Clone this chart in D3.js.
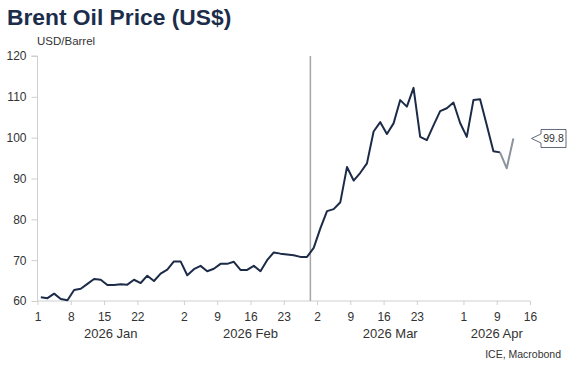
<!DOCTYPE html>
<html>
<head>
<meta charset="utf-8">
<script src="https://cdn.jsdelivr.net/npm/d3@7"></script>
<style>
  html, body { margin: 0; padding: 0; background: #fff; }
  svg { display: block; font-family: "Liberation Sans", Arial, sans-serif; }
</style>
</head>
<body>
<svg id="chart" width="575" height="366"></svg>
<script>
// Trading days (axis calendar, Good Friday Apr 3 excluded), Jan 1 .. Apr 16 2026
const axisDays = [
  "2026-01-01","2026-01-02","2026-01-05","2026-01-06","2026-01-07","2026-01-08","2026-01-09",
  "2026-01-12","2026-01-13","2026-01-14","2026-01-15","2026-01-16","2026-01-19","2026-01-20",
  "2026-01-21","2026-01-22","2026-01-23","2026-01-26","2026-01-27","2026-01-28","2026-01-29",
  "2026-01-30","2026-02-02","2026-02-03","2026-02-04","2026-02-05","2026-02-06","2026-02-09",
  "2026-02-10","2026-02-11","2026-02-12","2026-02-13","2026-02-16","2026-02-17","2026-02-18",
  "2026-02-19","2026-02-20","2026-02-23","2026-02-24","2026-02-25","2026-02-26","2026-02-27",
  "2026-03-02","2026-03-03","2026-03-04","2026-03-05","2026-03-06","2026-03-09","2026-03-10",
  "2026-03-11","2026-03-12","2026-03-13","2026-03-16","2026-03-17","2026-03-18","2026-03-19",
  "2026-03-20","2026-03-23","2026-03-24","2026-03-25","2026-03-26","2026-03-27","2026-03-30",
  "2026-03-31","2026-04-01","2026-04-02","2026-04-06","2026-04-07","2026-04-08","2026-04-09",
  "2026-04-10","2026-04-13","2026-04-14","2026-04-15","2026-04-16"
];
// Brent, USD/barrel, one value per trading day from Jan 1
const brent = [
  60.9, 60.7, 61.8, 60.5, 60.2, 62.7, 63.0, 64.2, 65.4, 65.2,
  63.9, 63.9, 64.1, 64.0, 65.2, 64.4, 66.2, 64.9, 66.7, 67.7,
  69.7, 69.7, 66.3, 67.8, 68.6, 67.3, 67.9, 69.1, 69.1, 69.6,
  67.6, 67.6, 68.6, 67.3, 70.0, 71.9, 71.6, 71.4, 71.2, 70.8,
  70.8, 73.0, 77.8, 82.0, 82.5, 84.2, 92.8, 89.5, 91.4, 93.7,
  101.5, 103.8, 100.9, 103.5, 109.2, 107.6, 112.2, 100.2, 99.4, 103.0,
  106.5, 107.2, 108.6, 103.6, 100.2, 109.2, 109.4, 103.1, 96.7, 96.4,
  92.5, 99.8
];
const provisionalFrom = "2026-04-09";   // last points drawn in grey
const markerDate = "2026-02-27";        // vertical line
const xTickDates = ["2026-01-01","2026-01-08","2026-01-15","2026-01-22",
  "2026-02-02","2026-02-09","2026-02-16","2026-02-23",
  "2026-03-02","2026-03-09","2026-03-16","2026-03-23",
  "2026-04-01","2026-04-09","2026-04-16"];
const monthLabels = ["2026 Jan","2026 Feb","2026 Mar","2026 Apr"];
const monthStarts = ["2026-01-01","2026-02-02","2026-03-02","2026-04-01"];
const yTicks = [60, 70, 80, 90, 100, 110, 120];

const title = "Brent Oil Price (US$)";
const unit = "USD/Barrel";
const source = "ICE, Macrobond";

const svg = d3.select("#chart");
const navy = "#1c2b48";
const textCol = "#333333";
const axisCol = "#cfcfcf";

const idx = d => axisDays.indexOf(d);
const lastIdx = axisDays.length - 1;

const x = d3.scaleLinear().domain([0, lastIdx]).range([37.5, 530]);
const y = d3.scaleLinear().domain([60, 120]).range([301, 56]);

// Title & unit
svg.append("text").attr("x", 7).attr("y", 25)
  .attr("font-size", 22.8).attr("font-weight", "bold").attr("fill", "#1c2d4c")
  .text(title);
svg.append("text").attr("x", 37).attr("y", 45)
  .attr("font-size", 11.5).attr("fill", textCol).text(unit);

// Y axis
const yAxis = svg.append("g").attr("transform", `translate(${x(0)},0)`)
  .call(d3.axisLeft(y).tickValues(yTicks).tickSize(6).tickPadding(5).tickFormat(d3.format("d")));
yAxis.select(".domain").attr("stroke", axisCol).attr("d", `M-6,${y(120)}H0V${y(60)}`);
yAxis.selectAll(".tick line").attr("stroke", axisCol);
yAxis.selectAll("text").attr("font-size", 12).attr("fill", textCol).attr("font-family", null);

// X axis
const xAxis = svg.append("g").attr("transform", `translate(0,${y(60)})`)
  .call(d3.axisBottom(x).tickValues(xTickDates.map(idx)).tickSize(4).tickPadding(7)
    .tickFormat(i => String(+axisDays[i].slice(8))));
xAxis.select(".domain").attr("stroke", axisCol).attr("d", `M${x(0)},0H${x(lastIdx)}`);
xAxis.selectAll(".tick line").attr("stroke", axisCol);
xAxis.selectAll("text").attr("font-size", 12).attr("fill", textCol).attr("font-family", null);

// Month labels
const monthEnds = monthStarts.slice(1).map(idx).concat([lastIdx]);
svg.append("g").selectAll("text").data(monthLabels).join("text")
  .attr("x", (d, i) => x((idx(monthStarts[i]) + monthEnds[i]) / 2))
  .attr("y", 337.5).attr("text-anchor", "middle")
  .attr("font-size", 13).attr("fill", textCol).text(d => d);

// Vertical marker line
svg.append("line")
  .attr("x1", x(idx(markerDate))).attr("x2", x(idx(markerDate)))
  .attr("y1", y(120)).attr("y2", y(60))
  .attr("stroke", "#a6a6a6").attr("stroke-width", 1.5);

// Series
const pts = brent.map((v, i) => ({ i, v }));
const split = idx(provisionalFrom);
const line = d3.line().x(d => x(d.i + 0.5)).y(d => y(d.v));
svg.append("path").datum(pts.filter(d => d.i <= split))
  .attr("d", line).attr("fill", "none").attr("stroke", navy)
  .attr("stroke-width", 2).attr("stroke-linejoin", "round");
svg.append("path").datum(pts.filter(d => d.i >= split))
  .attr("d", line).attr("fill", "none").attr("stroke", "#8d939c")
  .attr("stroke-width", 2).attr("stroke-linejoin", "round");

// Last value callout
const lastV = brent[brent.length - 1];
const cy = y(lastV);
const bx0 = 541, bx1 = 566, bh = 9, tipX = 531.5;
svg.append("path")
  .attr("d", `M${tipX},${cy}L${bx0},${cy - 4.5}V${cy - bh}H${bx1}V${cy + bh}H${bx0}V${cy + 4.5}Z`)
  .attr("fill", "#fff").attr("stroke", "#3a4256").attr("stroke-width", 0.8);
svg.append("text").attr("x", (bx0 + bx1) / 2).attr("y", cy + 3.8)
  .attr("text-anchor", "middle").attr("font-size", 10.5).attr("fill", textCol)
  .text(d3.format(".1f")(lastV));

// Source
svg.append("text").attr("x", 561).attr("y", 358).attr("text-anchor", "end")
  .attr("font-size", 10.5).attr("fill", textCol).text(source);
</script>
</body>
</html>
